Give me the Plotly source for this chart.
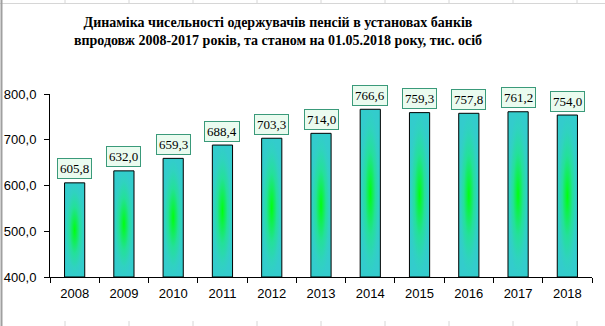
import plotly.graph_objects as go

# ---- data ----
years = ["2008", "2009", "2010", "2011", "2012", "2013", "2014", "2015", "2016", "2017", "2018"]
recipients = [605.8, 632.0, 659.3, 688.4, 703.3, 714.0, 766.6, 759.3, 757.8, 761.2, 754.0]
y_ticks = [400, 500, 600, 700, 800]
title_lines = [
    "Динаміка чисельності одержувачів пенсій в установах банків",
    "впродовж 2008-2017 років, та станом на 01.05.2018 року, тис. осіб",
]

Y_MIN = y_ticks[0]
Y_MAX = y_ticks[-1]
BAR_W = 0.41

W, H = 605, 326
ML, MR, MT, MB = 50, 13, 94, 49
PW = W - ML - MR
PH = H - MT - MB

fig = go.Figure()

# bars drawn as filled shapes so they can carry a radial gradient
for i, v in enumerate(recipients):
    x0, x1 = i - BAR_W / 2, i + BAR_W / 2
    fig.add_trace(go.Scatter(
        x=[x0, x0, x1, x1, x0],
        y=[Y_MIN, v, v, Y_MIN, Y_MIN],
        mode="lines",
        fill="toself",
        fillgradient=dict(type="radial",
                          colorscale=[[0, "#00FF10"], [0.22, "#10F050"], [0.5, "#24E09A"],
                                      [0.8, "#30D2C0"], [1, "#33CCCC"]]),
        line=dict(color="black", width=1),
        hoverinfo="skip",
        showlegend=False,
    ))

# value labels
for i, v in enumerate(recipients):
    fig.add_annotation(
        x=i, y=v, xref="x", yref="y",
        text=f"{v:.1f}".replace(".", ","),
        showarrow=False, yanchor="middle", yshift=14,
        font=dict(family="Liberation Serif", size=13, color="black"),
        bgcolor="#EAFBEF", bordercolor="#3A9A7A", borderwidth=1, borderpad=2,
    )

# spreadsheet cell borders around the chart
def px_x(px):
    return (px - ML) / PW

def px_y(py):
    return (H - MB - py) / PH

grid_col = "#D6D6D6"
shapes = []
shapes.append(dict(type="line", xref="paper", yref="paper",
                   x0=px_x(0), x1=px_x(W), y0=px_y(3.5), y1=px_y(3.5),
                   line=dict(color=grid_col, width=1)))
for gx in [65, 129, 193, 257, 321, 385, 449, 513, 577]:
    shapes.append(dict(type="line", xref="paper", yref="paper",
                       x0=px_x(gx), x1=px_x(gx), y0=px_y(0), y1=px_y(3.5),
                       line=dict(color=grid_col, width=1)))
    shapes.append(dict(type="line", xref="paper", yref="paper",
                       x0=px_x(gx), x1=px_x(gx), y0=px_y(321), y1=px_y(H),
                       line=dict(color=grid_col, width=1)))
shapes.append(dict(type="line", xref="paper", yref="paper",
                   x0=px_x(1.5), x1=px_x(1.5), y0=px_y(0), y1=px_y(H),
                   line=dict(color="#A0A0A0", width=2)))

fig.update_layout(
    width=W, height=H,
    margin=dict(l=ML, r=MR, t=MT, b=MB),
    paper_bgcolor="white", plot_bgcolor="white",
    separators=",.",
    showlegend=False,
    shapes=shapes,
    title=dict(
        text="<b>" + "<br>".join(title_lines) + "</b>",
        font=dict(family="Liberation Serif", size=14, color="black"),
        xref="container", x=278 / W, xanchor="center",
        yref="container", y=1 - 27 / H, yanchor="top",
    ),
    xaxis=dict(
        range=[-0.5, len(years) - 0.5],
        tickmode="array", tickvals=list(range(len(years))), ticktext=years,
        ticks="", showgrid=False, zeroline=False, automargin=False,
        showline=True, linecolor="black", linewidth=1,
        tickfont=dict(family="Liberation Sans", size=13, color="black"),
        ticklabelstandoff=4,
        minor=dict(tickmode="array", tickvals=[k - 0.5 for k in range(len(years) + 1)],
                   ticks="outside", ticklen=5, tickcolor="black", tickwidth=1),
    ),
    yaxis=dict(
        range=[Y_MIN, Y_MAX],
        tickmode="array", tickvals=y_ticks, tickformat=".1f",
        ticks="outside", ticklen=5, tickcolor="black",
        showgrid=False, zeroline=False, automargin=False,
        showline=True, linecolor="black", linewidth=1,
        tickfont=dict(family="Liberation Sans", size=13, color="black"),
        ticklabelstandoff=5,
    ),
)

fig.write_html("out.html")
